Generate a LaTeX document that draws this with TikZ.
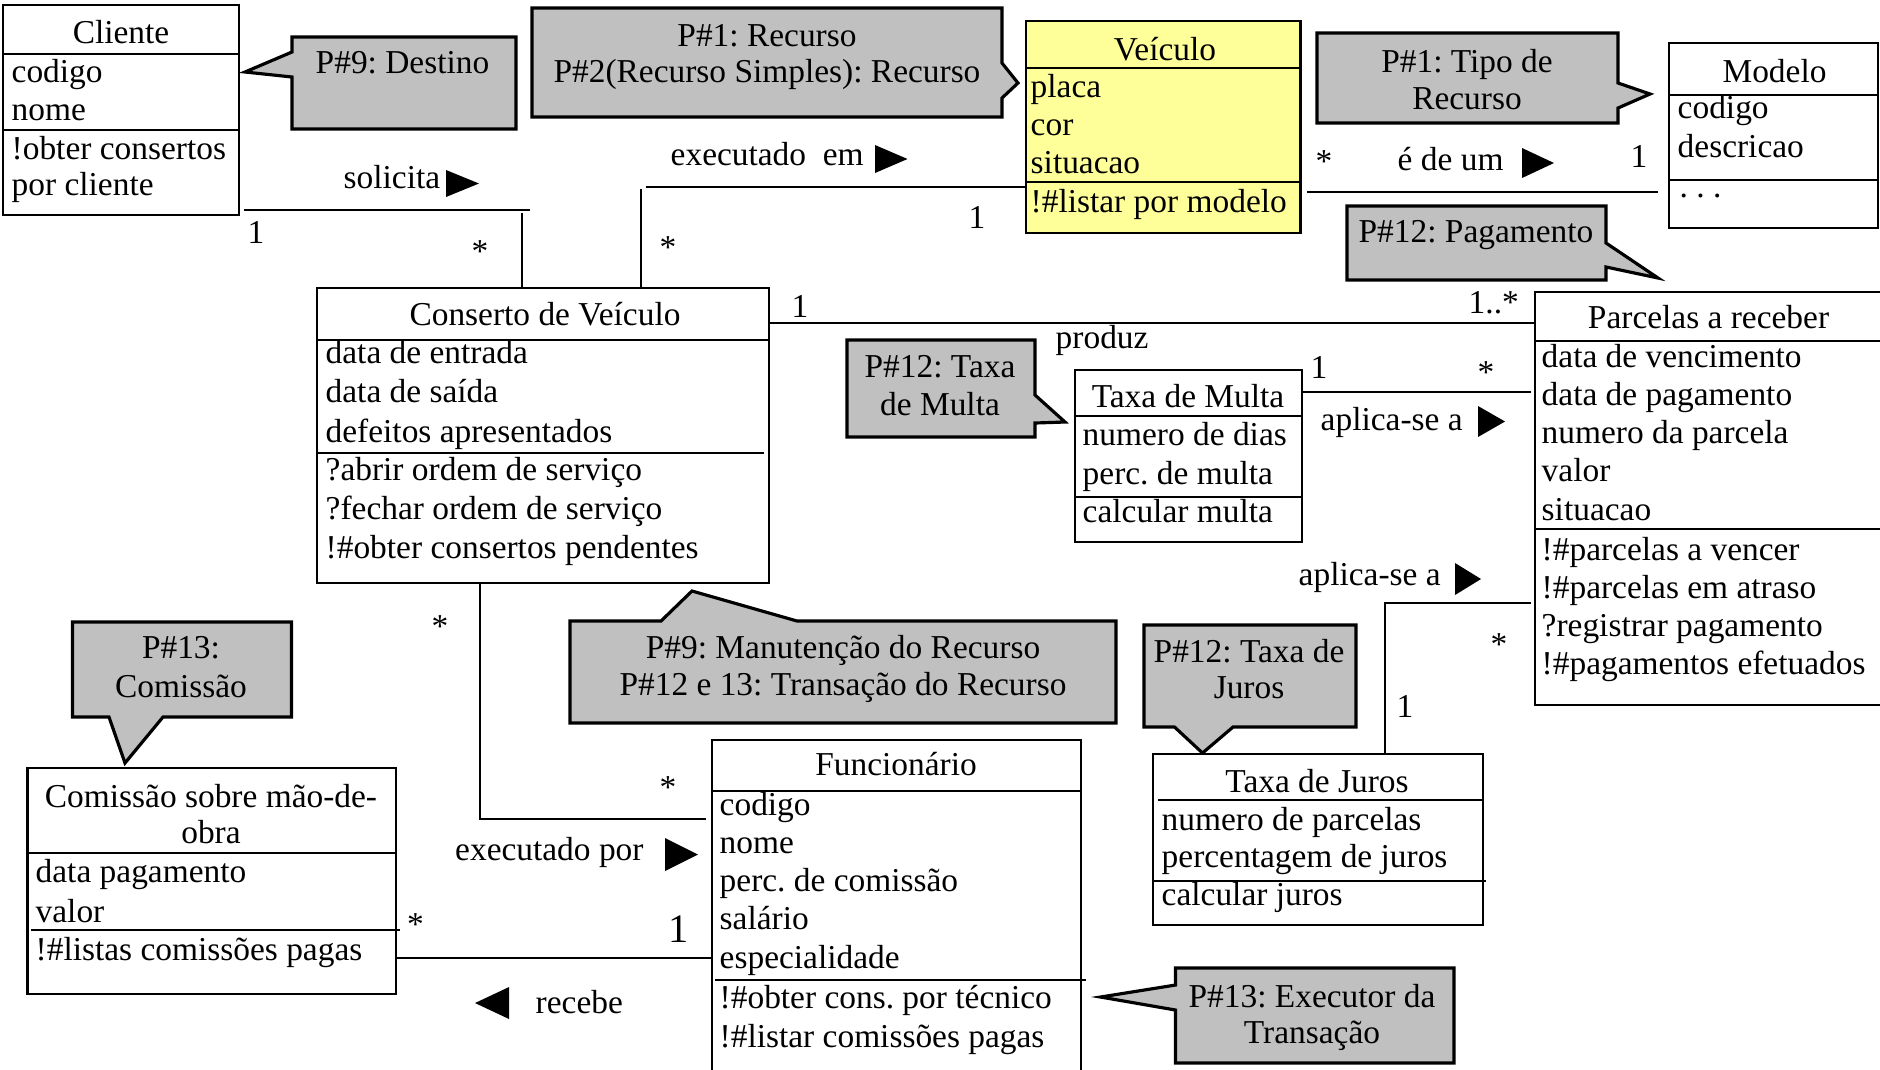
\documentclass[tikz,border=0pt]{standalone}
\usepackage{fontspec}
\setmainfont{Liberation Serif}
\usetikzlibrary{fit}
\definecolor{notegray}{RGB}{192,192,192}
\definecolor{classyellow}{RGB}{255,255,153}
\tikzset{
  classbox/.style={draw, line width=0.8pt, inner sep=0pt, fill=white},
  sepline/.style={line width=0.8pt},
  assoc/.style={line width=0.8pt},
  txt/.style={font=\fontsize{9.5}{11}\selectfont\frenchspacing, inner sep=0pt, anchor=base west},
  ctxt/.style={txt, anchor=base},
  note/.style={fill=notegray, draw, line width=0.9pt, line join=miter},
  dirtri/.style={fill=black},
}
% one text line per entry, baselines spaced by #4
\newcommand\classrows[5]{%
  \foreach \t [count=\i] in {#5}{\node[txt] (#1-\i) at (#2,{#3+(\i-1)*#4}) {\t};}}

\begin{document}
\frenchspacing
\begin{tikzpicture}[x=0.01cm, y=-0.01cm]
\useasboundingbox (0,0) rectangle (1880,1069);
\fill[white] (0,0) rectangle (1880,1069);
\clip (0,0) rectangle (1880,1069);

% ---------- notes (grey callouts) ----------
\draw[note] (292,37) -- (516,37) -- (516,129) -- (292,129) -- (292,77) -- (245,72) -- (292,52) -- cycle;
\node[ctxt] (n9) at (402.5,73) {P\#9: Destino};

\draw[note] (532,8) -- (1002,8) -- (1002,63) -- (1018,83) -- (1002,98) -- (1002,117) -- (532,117) -- cycle;
\node[ctxt] (n1a) at (767,46) {P\#1: Recurso};
\node[ctxt] (n1b) at (767,82) {P\#2(Recurso Simples): Recurso};

\draw[note] (1317,33) -- (1618,33) -- (1618,83) -- (1650,94) -- (1618,108) -- (1618,123) -- (1317,123) -- cycle;
\node[ctxt] (n1c) at (1467,72) {P\#1: Tipo de};
\node[ctxt] (n1d) at (1467,109) {Recurso};

\draw[note] (1347,206) -- (1606,206) -- (1606,243) -- (1658,278) -- (1606,267) -- (1606,280) -- (1347,280) -- cycle;
\node[ctxt] (n12p) at (1476,242) {P\#12: Pagamento};

\draw[note] (847,340) -- (1035,340) -- (1035,395) -- (1065,422) -- (1035,423) -- (1035,437) -- (847,437) -- cycle;
\node[ctxt] (n12m1) at (940,377) {P\#12: Taxa};
\node[ctxt] (n12m2) at (940,415) {de Multa};

\draw[note] (570,621) -- (661,621) -- (692,591) -- (797,621) -- (1116,621) -- (1116,723) -- (570,723) -- cycle;
\node[ctxt] (n9m1) at (843,658) {P\#9: Manutenção do Recurso};
\node[ctxt] (n9m2) at (843,695) {P\#12 e 13: Transação do Recurso};

\draw[note] (1144,625) -- (1356,625) -- (1356,727) -- (1233,727) -- (1202.5,753) -- (1174.5,727) -- (1144,727) -- cycle;
\node[ctxt] (n12j1) at (1249,662) {P\#12: Taxa de};
\node[ctxt] (n12j2) at (1249,698) {Juros};

\draw[note] (72.5,622) -- (291.5,622) -- (291.5,717) -- (163,717) -- (125,763) -- (109,717) -- (72.5,717) -- cycle;
\node[ctxt] (n13c1) at (181,658) {P\#13:};
\node[ctxt] (n13c2) at (181,697) {Comissão};

\draw[note] (1175.5,968) -- (1454,968) -- (1454,1063) -- (1175.5,1063) -- (1175.5,1010) -- (1100.5,997) -- (1175.5,985) -- cycle;
\node[ctxt] (n13e1) at (1312,1007) {P\#13: Executor da};
\node[ctxt] (n13e2) at (1312,1043) {Transação};

% ---------- classes ----------
% Cliente
\node[classbox, fit={(3,5) (239,215)}] (cliente) {};
\draw[sepline] (3,54) -- (239,54);
\draw[sepline] (3,130) -- (239,130);
\node[ctxt] (cliente-t) at (121,43) {Cliente};
\classrows{cliente-a}{11}{82}{38}{codigo,nome}
\classrows{cliente-o}{11}{159}{36}{!obter consertos,por cliente}

% Veiculo
\node[classbox, fill=classyellow, fit={(1026,21) (1300.6,233)}] (veiculo) {};
\draw[sepline] (1026,68) -- (1300.6,68);
\draw[sepline] (1026,182) -- (1300.6,182);
\node[ctxt] (veiculo-t) at (1165,60) {Veículo};
\classrows{veiculo-a}{1030}{97}{38}{placa,cor,situacao}
\node[txt] (veiculo-o1) at (1030,212) {!\#listar por modelo};

% Modelo
\node[classbox, fit={(1669,43) (1878,228)}] (modelo) {};
\draw[sepline] (1669,95) -- (1878,95);
\draw[sepline] (1669,180) -- (1878,180);
\node[ctxt] (modelo-t) at (1774.5,82) {Modelo};
\classrows{modelo-a}{1677}{118}{39}{codigo,descricao}
\node[txt] (modelo-o1) at (1679,197) {.\ .\ .};

% Conserto de Veiculo
\node[classbox, fit={(317,288) (769,583)}] (conserto) {};
\draw[sepline] (317,340) -- (769,340);
\draw[sepline] (317,453) -- (764,453);
\node[ctxt] (conserto-t) at (545,325) {Conserto de Veículo};
\classrows{conserto-a}{325}{363}{39.5}{data de entrada,data de saída,defeitos apresentados}
\classrows{conserto-o}{325}{480}{39}{?abrir ordem de serviço,?fechar ordem de serviço,!\#obter consertos pendentes}

% Taxa de Multa
\node[classbox, fit={(1075,370) (1302,542)}] (multa) {};
\draw[sepline] (1075,416) -- (1302,416);
\draw[sepline] (1075,497) -- (1302,497);
\node[ctxt] (multa-t) at (1188,407) {Taxa de Multa};
\classrows{multa-a}{1082}{445}{39}{numero de dias,perc. de multa}
\node[txt] (multa-o1) at (1082,522) {calcular multa};

% Parcelas a receber
\node[classbox, fit={(1535,292) (1886,705)}] (parcelas) {};
\draw[sepline] (1535,341) -- (1886,341);
\draw[sepline] (1535,529) -- (1886,529);
\node[ctxt] (parcelas-t) at (1708.5,328) {Parcelas a receber};
\classrows{parcelas-a}{1541}{367}{38.3}{data de vencimento,data de pagamento,numero da parcela,valor,situacao}
\classrows{parcelas-o}{1541}{560}{38.3}{!\#parcelas a vencer,!\#parcelas em atraso,?registrar pagamento,!\#pagamentos efetuados}

% Taxa de Juros
\node[classbox, fit={(1153,754) (1483,925)}] (juros) {};
\draw[sepline] (1158,800) -- (1483,800);
\draw[sepline] (1153,881) -- (1486,881);
\node[ctxt] (juros-t) at (1317,792) {Taxa de Juros};
\classrows{juros-a}{1161}{830}{37}{numero de parcelas,percentagem de juros}
\node[txt] (juros-o1) at (1161,905) {calcular juros};

% Funcionario
\node[classbox, fit={(712,740) (1081,1085)}] (funcionario) {};
\draw[sepline] (712,791) -- (1081,791);
\draw[sepline] (715,980) -- (1086,980);
\node[ctxt] (funcionario-t) at (896,775) {Funcionário};
\classrows{funcionario-a}{719}{815}{38.3}{codigo,nome,perc. de comissão,salário,especialidade}
\classrows{funcionario-o}{719}{1008}{39}{!\#obter cons. por técnico,!\#listar comissões pagas}

% Comissao sobre mao-de-obra
\node[classbox, fit={(27.5,768) (396,994)}] (comissao) {};
\draw[sepline] (27.5,853) -- (396,853);
\draw[sepline] (31,930) -- (399.5,930);
\node[ctxt] (comissao-t1) at (211,807) {Comissão sobre mão-de-};
\node[ctxt] (comissao-t2) at (211,843) {obra};
\classrows{comissao-a}{35}{882}{40}{data pagamento,valor}
\node[txt] (comissao-o1) at (35,960) {!\#listas comissões pagas};

% ---------- associations ----------
% solicita
\draw[assoc] (244,210) -- (530,210);
\draw[assoc] (522,213) -- (conserto.north -| 522,0);
\node[txt] (l-sol) at (343,188) {solicita};
\fill[dirtri] (446,170) -- (479,183.5) -- (446,197) -- cycle;
\node[ctxt] (m-sol1) at (256,243) {1};
\node[ctxt] (m-sol2) at (480,262) {*};

% executado em
\draw[assoc] (646,187) -- (veiculo.west |- 0,187);
\draw[assoc] (641,189) -- (conserto.north -| 641,0);
\node[txt] (l-exe) at (670,165) {executado\ \ em};
\fill[dirtri] (875,145) -- (907.5,159) -- (875,173) -- cycle;
\node[ctxt] (m-exe1) at (668,258) {*};
\node[ctxt] (m-exe2) at (977,228) {1};

% e de um
\draw[assoc] (1307,192) -- (1658,192);
\node[txt] (l-ede) at (1397,170) {é de um};
\fill[dirtri] (1522,148) -- (1554,163) -- (1522,178) -- cycle;
\node[ctxt] (m-ede1) at (1324,172) {*};
\node[ctxt] (m-ede2) at (1639,167) {1};

% produz
\draw[assoc] (conserto.east |- 0,323) -- (parcelas.west |- 0,323);
\node[txt] (l-pro) at (1055,348) {produz};
\node[ctxt] (m-pro1) at (800,317) {1};
\node[txt] (m-pro2) at (1468,313) {1..*};

% aplica-se a (multa)
\draw[assoc] (multa.east |- 0,392) -- (1531,392);
\node[txt] (l-apm) at (1320,430) {aplica-se a};
\fill[dirtri] (1478,406) -- (1505,421.5) -- (1478,437) -- cycle;
\node[ctxt] (m-apm1) at (1319,378) {1};
\node[ctxt] (m-apm2) at (1486,383) {*};

% aplica-se a (juros)
\draw[assoc] (juros.north -| 1385,0) -- (1385,603) -- (1531,603);
\node[txt] (l-apj) at (1298,585) {aplica-se a};
\fill[dirtri] (1455,563) -- (1481,579) -- (1455,595) -- cycle;
\node[ctxt] (m-apj1) at (1499,655) {*};
\node[ctxt] (m-apj2) at (1405,717) {1};

% executado por
\draw[assoc] (conserto.south -| 480,0) -- (480,819) -- (706,819);
\node[txt] (l-exp) at (454.5,860) {executado por};
\fill[dirtri] (665,838) -- (698,854.5) -- (665,871) -- cycle;
\node[ctxt] (m-exp1) at (440,637) {*};
\node[ctxt] (m-exp2) at (668,798) {*};

% recebe
\draw[assoc] (comissao.east |- 0,958) -- (funcionario.west |- 0,958);
\node[txt] (l-rec) at (535,1013) {recebe};
\fill[dirtri] (509,987) -- (475,1003) -- (509,1019) -- cycle;
\node[ctxt] (m-rec1) at (415.5,935) {*};
\node[ctxt, font=\fontsize{11.5}{13}\selectfont] (m-rec2) at (678.6,942) {1};
\end{tikzpicture}
\end{document}
